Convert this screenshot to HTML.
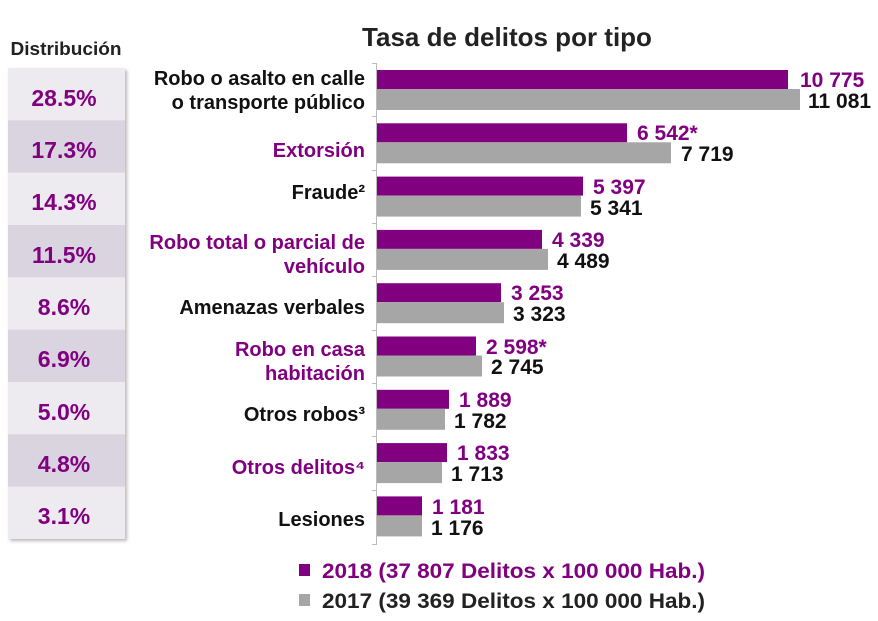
<!DOCTYPE html>
<html><head><meta charset="utf-8"><style>
body{margin:0;background:#fff;}
svg{display:block;font-family:"Liberation Sans",Arial,sans-serif;font-weight:bold;}
</style></head><body>
<svg width="878" height="621" viewBox="0 0 878 621">
<defs><filter id="sh" x="-5%" y="-5%" width="115%" height="115%"><feDropShadow dx="2" dy="2" stdDeviation="1.5" flood-color="#888" flood-opacity="0.6"/></filter></defs>
<text x="66" y="55" font-size="18" fill="#222" text-anchor="middle" textLength="111" lengthAdjust="spacingAndGlyphs">Distribución</text>
<g filter="url(#sh)">
<rect x="8" y="68" width="117" height="471" fill="#eeebf0"/>
</g>
<rect x="8" y="120.3" width="117" height="52.3" fill="#d9d4e0"/>
<rect x="8" y="225" width="117" height="52.3" fill="#d9d4e0"/>
<rect x="8" y="329.7" width="117" height="52.3" fill="#d9d4e0"/>
<rect x="8" y="434.3" width="117" height="52.3" fill="#d9d4e0"/>
<g font-size="23" fill="#800080" text-anchor="middle">
<text x="64" y="106">28.5%</text><text x="64" y="158">17.3%</text><text x="64" y="210">14.3%</text>
<text x="64" y="263">11.5%</text><text x="64" y="315">8.6%</text><text x="64" y="367">6.9%</text>
<text x="64" y="420">5.0%</text><text x="64" y="472">4.8%</text><text x="64" y="524">3.1%</text>
</g>
<text x="507" y="46" font-size="26" fill="#222" text-anchor="middle">Tasa de delitos por tipo</text>
<line x1="376.5" y1="63" x2="376.5" y2="545" stroke="#bbb"/>
<g stroke="#bbb">
<line x1="372" y1="63.5" x2="377" y2="63.5"/><line x1="372" y1="116.5" x2="377" y2="116.5"/><line x1="372" y1="170.5" x2="377" y2="170.5"/><line x1="372" y1="223.5" x2="377" y2="223.5"/><line x1="372" y1="276.5" x2="377" y2="276.5"/><line x1="372" y1="330.5" x2="377" y2="330.5"/><line x1="372" y1="383.5" x2="377" y2="383.5"/><line x1="372" y1="436.5" x2="377" y2="436.5"/><line x1="372" y1="490.5" x2="377" y2="490.5"/><line x1="372" y1="544.5" x2="377" y2="544.5"/>
</g>
<g fill="#800080">
<rect x="377" y="70" width="411" height="19"/>
<rect x="377" y="123.3" width="250" height="19"/>
<rect x="377" y="176.6" width="206" height="19"/>
<rect x="377" y="229.9" width="165" height="19"/>
<rect x="377" y="283.2" width="124" height="19"/>
<rect x="377" y="336.5" width="99" height="19"/>
<rect x="377" y="389.8" width="72" height="19"/>
<rect x="377" y="443.1" width="70" height="19"/>
<rect x="377" y="496.4" width="45" height="19"/>
</g>
<g fill="#a6a6a6">
<rect x="377" y="89" width="423" height="21"/>
<rect x="377" y="142.3" width="294" height="21"/>
<rect x="377" y="195.6" width="204" height="21"/>
<rect x="377" y="248.9" width="171" height="21"/>
<rect x="377" y="302.2" width="127" height="21"/>
<rect x="377" y="355.5" width="105" height="21"/>
<rect x="377" y="408.8" width="68" height="21"/>
<rect x="377" y="462.1" width="65" height="21"/>
<rect x="377" y="515.4" width="45" height="21"/>
</g>
<g font-size="21" fill="#800080">
<text x="800" y="87">10 775</text><text x="637" y="140">6 542*</text><text x="593" y="194">5 397</text>
<text x="552" y="247">4 339</text><text x="511" y="300">3 253</text><text x="486" y="354">2 598*</text>
<text x="459" y="407">1 889</text><text x="457" y="460">1 833</text><text x="432" y="514">1 181</text>
</g>
<g font-size="21" fill="#111">
<text x="808" y="108">11 081</text><text x="681" y="161">7 719</text><text x="590" y="215">5 341</text>
<text x="557" y="268">4 489</text><text x="513" y="321">3 323</text><text x="491" y="374">2 745</text>
<text x="454" y="428">1 782</text><text x="451" y="481">1 713</text><text x="431" y="535">1 176</text>
</g>
<g font-size="20" text-anchor="end">
<text x="365" y="85" fill="#111">Robo o asalto en calle</text>
<text x="365" y="109" fill="#111">o transporte público</text>
<text x="365" y="157" fill="#800080">Extorsión</text>
<text x="365" y="199" fill="#111">Fraude²</text>
<text x="365" y="249" fill="#800080">Robo total o parcial de</text>
<text x="365" y="273" fill="#800080">vehículo</text>
<text x="365" y="314" fill="#111">Amenazas verbales</text>
<text x="365" y="356" fill="#800080">Robo en casa</text>
<text x="365" y="380" fill="#800080">habitación</text>
<text x="365" y="421" fill="#111">Otros robos³</text>
<text x="365" y="474" fill="#800080">Otros delitos⁴</text>
<text x="365" y="526" fill="#111">Lesiones</text>
</g>
<rect x="299" y="564" width="11" height="12" fill="#800080"/>
<rect x="299" y="594" width="11" height="12" fill="#a6a6a6"/>
<text x="322" y="578" font-size="21" fill="#800080" textLength="383" lengthAdjust="spacingAndGlyphs">2018 (37 807 Delitos x 100 000 Hab.)</text>
<text x="322" y="608" font-size="21" fill="#222" textLength="383" lengthAdjust="spacingAndGlyphs">2017 (39 369 Delitos x 100 000 Hab.)</text>
</svg>
</body></html>
